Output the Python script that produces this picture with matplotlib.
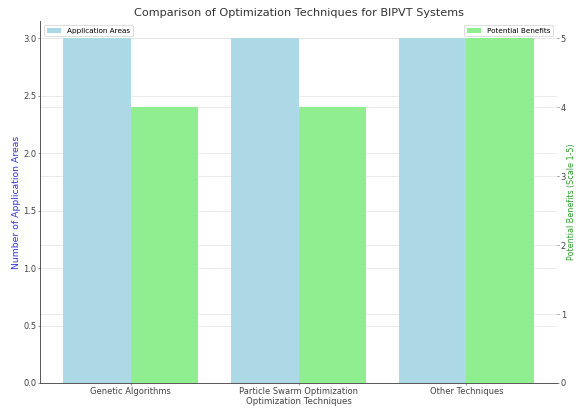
import numpy as np
import matplotlib
matplotlib.use("Agg")
import matplotlib.pyplot as plt
from matplotlib.lines import Line2D
from matplotlib.transforms import blended_transform_factory

techniques = ["Genetic Algorithms", "Particle Swarm Optimization", "Other Techniques"]
application_areas = [3, 3, 3]
potential_benefits = [4, 4, 5]

plt.rcParams["font.family"] = "DejaVu Sans"
plt.rcParams["axes.edgecolor"] = "#555555"
plt.rcParams["xtick.color"] = "#555555"
plt.rcParams["ytick.color"] = "#555555"
plt.rcParams["xtick.labelcolor"] = "#444444"
plt.rcParams["ytick.labelcolor"] = "#444444"
plt.rcParams["xtick.labelsize"] = 10.5
plt.rcParams["ytick.labelsize"] = 10.5
plt.rcParams["xtick.major.size"] = 3
plt.rcParams["ytick.major.size"] = 3
plt.rcParams["xtick.major.pad"] = 2
plt.rcParams["ytick.major.pad"] = 1.5

DPI = 57.8
fig = plt.figure(figsize=(578 / DPI, 409 / DPI), dpi=DPI)
ax1 = fig.add_axes([40 / 578, 1 - 383 / 409, 517 / 578, 362 / 409])
ax2 = ax1.twinx()

# the benefits axis sits underneath so its gridlines stay behind every bar
ax1.set_zorder(2)
ax2.set_zorder(1)
ax1.patch.set_visible(False)

x = np.arange(len(techniques))
width = 0.4

ax1.bar(x - width / 2, application_areas, width, color="lightblue", label="Application Areas")
ax2.bar(x + width / 2, potential_benefits, width, color="lightgreen", label="Potential Benefits", zorder=3)

ax1.set_ylabel("Number of Application Areas", color="#3333dd", fontsize=11.5, labelpad=3)
ax1.set_xlabel("Optimization Techniques", color="#444444", fontsize=10.8, labelpad=1)
ax1.set_xticks(x)
ax1.set_xticklabels(techniques)
ax2.set_ylabel("Potential Benefits (Scale 1-5)", color="#2ca02c", fontsize=10)
ax2.yaxis.set_label_coords(1.0 + 10 / 517, 0.5)

ax2.set_axisbelow(True)
ax2.grid(axis="y", color="#e6e6e6", linewidth=1)

# gridlines for the left scale, drawn on the lower axes
fig.canvas.draw()
grid_tf = blended_transform_factory(ax2.transAxes, ax1.transData)
for t in ax1.get_yticks():
    if 0 < t <= ax1.get_ylim()[1]:
        ax2.add_line(Line2D([0, 1], [t, t], transform=grid_tf, color="#e6e6e6",
                            linewidth=1, zorder=0.5))

for a in (ax1, ax2):
    a.spines["top"].set_visible(False)
    a.spines["right"].set_visible(False)
ax2.spines["left"].set_visible(False)
ax2.spines["bottom"].set_visible(False)
ax1.spines["left"].set_linewidth(1.2)
ax1.spines["bottom"].set_linewidth(1.2)

ax1.legend(loc="upper left", fontsize=9)
ax2.legend(loc="upper right", fontsize=9)

ax1.set_title("Comparison of Optimization Techniques for BIPVT Systems", color="#333333",
              fontsize=14)
fig.savefig("out.png", dpi=DPI)
